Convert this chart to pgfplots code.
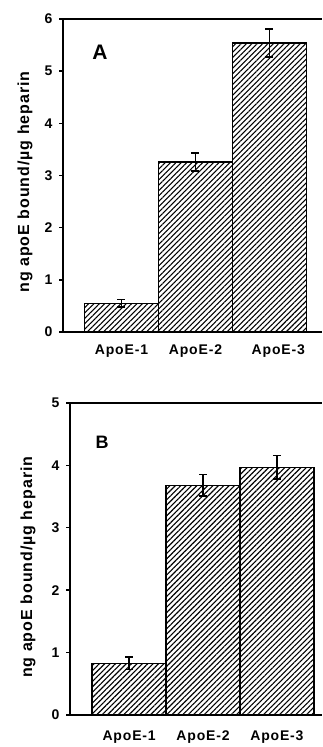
\documentclass[border=0pt]{standalone}
\usepackage{fontspec}
\setmainfont{Liberation Sans}
\newfontfamily\spaced{Liberation Sans}[LetterSpace=6]
\usepackage{pgfplots}
\pgfplotsset{compat=1.18}
\usetikzlibrary{patterns.meta}
\begin{document}
\begin{tikzpicture}
\useasboundingbox (0pt,0pt) rectangle (322pt,747pt);
\pgfplotsset{
  panel/.style={
    scale only axis,
    axis x line*=box, axis y line*=left,
    axis line style={line width=1.7pt},
    ymin=0,
    tick align=outside,
    ytick pos=left,
    xtick pos=bottom,
    major tick length=4pt,
    ytick style={line width=1.4pt,black},
    xtick style={draw=none},
    xtick={0,1,2},
    xticklabels={ApoE-1,ApoE-2,ApoE-3},
    /pgf/number format/assume math mode=true,
    yticklabel style={font=\fontsize{14}{16}\selectfont\bfseries, xshift=-3pt},
    xticklabel style={font=\spaced\fontsize{14}{16}\selectfont\bfseries, yshift=-5pt},
    ylabel={ng apoE bound/\textmu g heparin},
    ylabel style={font=\spaced\fontsize{16}{18}\selectfont\bfseries, anchor=center},
  },
  bars/.style={
    ybar, bar width=1, bar shift=0pt,
    draw=black, line width=1.4pt,
    pattern={Lines[angle=45,distance=3.8pt,line width=1.1pt]},
    error bars/.cd, y dir=both, y explicit,
    error bar style={line width=1.4pt,black},
    error mark options={rotate=90,mark size=4pt,line width=1.4pt,black},
  },
}
% Panel A
\begin{axis}[panel,
  at={(63pt,415pt)}, anchor=south west,
  width=259pt, height=313pt,
  xmin=-0.79, xmax=2.71, ymax=6,
  ytick={0,1,2,3,4,5,6},
  xtick={0,1,2.12},
  ylabel style={at={(axis description cs:-0.147,0.479)}},
]
\addplot[bars] coordinates {(0,0.55) +- (0,0.07) (1,3.26) +- (0,0.17) (2,5.54) +- (0,0.27)};
\draw[line width=1.4pt] (axis cs:1,0) -- ++(0pt,-7pt);
\node[font=\fontsize{21}{24}\selectfont\bfseries] at (rel axis cs:0.143,0.895) {A};
\end{axis}
% Panel B
\begin{axis}[panel,
  at={(70pt,32pt)}, anchor=south west,
  width=252pt, height=312pt,
  xmin=-0.80, xmax=2.61, ymax=5,
  ytick={0,1,2,3,4,5},
  ylabel style={at={(axis description cs:-0.167,0.474)}},
  xticklabel style={yshift=-3pt},
]
\addplot[bars] coordinates {(0,0.83) +- (0,0.10) (1,3.68) +- (0,0.17) (2,3.97) +- (0,0.19)};
\draw[line width=1.4pt] (axis cs:1,0) -- ++(0pt,-7pt);
\node[font=\fontsize{18}{21}\selectfont\bfseries] at (rel axis cs:0.127,0.875) {B};
\end{axis}
\end{tikzpicture}
\end{document}
